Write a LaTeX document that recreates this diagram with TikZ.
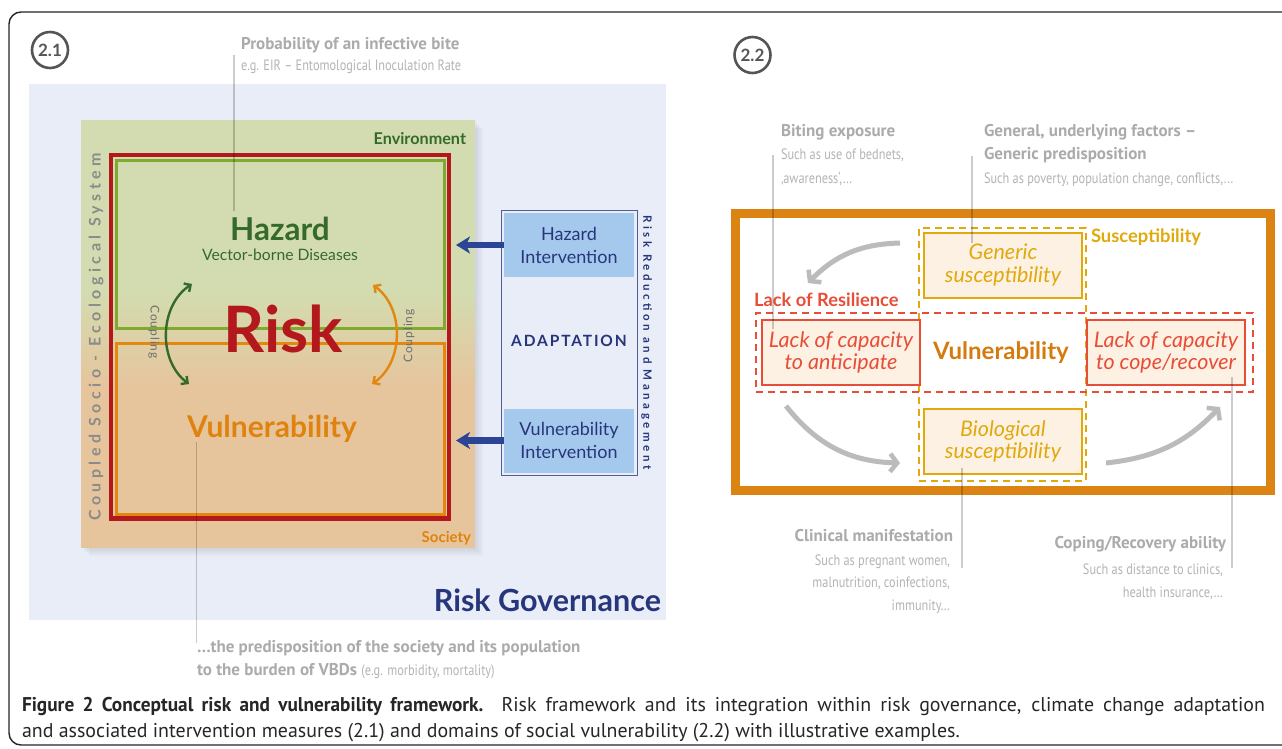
\documentclass[tikz,border=0pt]{standalone}
\usepackage{fontspec}
\setmainfont{Lato}
\newfontfamily\annofont[FakeStretch=0.82]{PT Sans}
\newfontfamily\headfont{PT Sans}
\newfontfamily\capfont{PT Sans}
\newfontfamily\capboldfont[FakeStretch=0.97]{PT Sans Bold}
\newfontfamily\spacedfont[LetterSpace=28]{Lato}
\newfontfamily\rrmfont[LetterSpace=31]{Lato}
\newfontfamily\widefont[LetterSpace=12]{Lato}
\newfontfamily\cplfont[LetterSpace=8]{Lato}
\usetikzlibrary{arrows.meta,positioning}

\newcommand{\setfs}[2][1.2]{\fontsize{#2}{#1\dimexpr #2pt\relax}\selectfont}

\definecolor{govbg}{HTML}{E9EDF8}
\definecolor{envgreen}{HTML}{D3DCB0}
\definecolor{socpeach}{HTML}{E6C59D}
\definecolor{riskred}{HTML}{B3191C}
\definecolor{hazline}{HTML}{7DAA2F}
\definecolor{vulline}{HTML}{E2870F}
\definecolor{hazgreen}{HTML}{356A2A}
\definecolor{vulorange}{HTML}{E0820E}
\definecolor{navy}{HTML}{27367B}
\definecolor{arrowblue}{HTML}{2B4596}
\definecolor{intblue}{HTML}{A4C9EC}
\definecolor{headgray}{HTML}{ABABAB}
\definecolor{bodygray}{HTML}{B4B4B4}
\definecolor{frameorange}{HTML}{DC8413}
\definecolor{susyellow}{HTML}{E1A90B}
\definecolor{boxfill}{HTML}{FDF1E4}
\definecolor{resred}{HTML}{E84D37}
\definecolor{arrowgray}{HTML}{BBBBBB}
\definecolor{circgray}{HTML}{555555}
\definecolor{couplegray}{HTML}{6E6E6E}

\tikzset{
  every node/.style={inner sep=0pt, outer sep=0pt},
  numlabel/.style={circle, draw=circgray, line width=2.6pt, minimum size=36pt,
    text=circgray, font=\bfseries\setfs{17}},
  annohead/.style={font=\headfont\bfseries\setfs{17}, text=headgray},
  annobody/.style={font=\annofont\setfs{15}, text=bodygray},
  guide/.style={draw=black, draw opacity=0.2, line width=1.8pt},
  intbox/.style={fill=intblue, minimum width=130pt, minimum height=64pt, align=center,
    text=navy, font=\setfs[1.28]{18}},
  susbox/.style={draw=susyellow, fill=boxfill, line width=2pt, minimum width=158pt,
    minimum height=65pt, align=center, text=susyellow, font=\itshape\setfs[1.05]{21.5}},
  resbox/.style={susbox, draw=resred, text=resred},
  captionline/.style={font=\capfont\setfs{19.9}, text=black!85, anchor=base west},
  bluearrow/.style={draw=arrowblue, line width=6.5pt, -{Stealth[length=14pt, width=17pt, inset=4pt]}},
  couplearrow/.style={line width=2.4pt, {Straight Barb[length=5pt, width=10pt]}-{Straight Barb[length=5pt, width=10pt]}},
  grayarrow/.style={draw=arrowgray, line width=5pt, -{Straight Barb[length=7pt, width=18pt, line width=4.5pt]}}
}

\begin{document}
\begin{tikzpicture}[x=1pt,y=-1pt]
\useasboundingbox (0,0) rectangle (1282,749);
\clip (0,0) rectangle (1282,749);
\fill[white] (0,0) rectangle (1282,749);
\draw[line width=1.4pt, rounded corners=12pt, black!85] (9,12) rectangle (1310,745);

% 2.1
\node[numlabel] (c21) at (50,50) {2.1};
\fill[govbg] (29,84) rectangle (666,620);
\foreach \d in {2,4,6,8}
  \fill[black, opacity=0.025] (81+\d,120+\d) rectangle (475+\d,548+\d);
\fill[envgreen] (81,120) rectangle (475,290);
\shade[top color=envgreen, bottom color=socpeach] (81,290) rectangle (475,385);
\fill[socpeach] (81,385) rectangle (475,548);

\node[draw=riskred, line width=4.5pt, minimum width=338pt, minimum height=363.5pt] (riskframe) at (280,336.75) {};
\node[draw=hazline, line width=3pt, minimum width=328.5pt, minimum height=168.5pt] (hazframe) at (280.25,244.25) {};
\node[draw=vulline, line width=3pt, minimum width=328.5pt, minimum height=171pt] (vulframe) at (280.25,429) {};

\node[font=\bfseries\setfs{16.2}, text=hazgreen, anchor=base east] (envlabel) at (466,145) {Environment};
\node[font=\bfseries\setfs{15}, text=vulorange, anchor=base east] (soclabel) at (471,542) {Society};
\node[font=\bfseries\setfs{31.5}, text=hazgreen, anchor=base] (hazard) at (280,240) {Hazard};
\node[font=\setfs{15.7}, text=hazgreen, anchor=base] (vbd) at (280,260) {Vector-borne Diseases};
\node[font=\bfseries\setfs{64}, text=riskred, anchor=base] (risk) at (283,352) {Risk};
\node[font=\bfseries\setfs{30}, text=vulorange, anchor=base] (vul) at (272,437) {Vulnerability};

\node[font=\spacedfont\bfseries\setfs{16}, text=couplegray!80, rotate=90] (system) at (96,337) {Coupled Socio - Ecological System};

\coordinate (cg1) at (192,284);
\coordinate (cg2) at (189,384);
\coordinate (co1) at (373,285);
\coordinate (co2) at (372,384);
\draw[couplearrow, draw=hazgreen] (cg1) to[bend right=55] (cg2);
\draw[couplearrow, draw=vulline] (co1) to[bend left=55] (co2);
\node[font=\cplfont\setfs{12}, text=couplegray, rotate=-90] (cplleft) at (154,332) {Coupling};
\node[font=\cplfont\setfs{12}, text=couplegray, rotate=90] (cplright) at (409,336) {Coupling};

\draw[navy!80, line width=0.9pt] (501,210) rectangle (637,475);
\node[intbox] (hazint) at (569,245) {Hazard\\Intervention};
\node[intbox] (vulint) at (569,440.5) {Vulnerability\\Intervention};
\node[font=\widefont\bfseries\setfs{15.5}, text=navy, anchor=base] (adapt) at (569,346) {ADAPTATION};
\node[font=\rrmfont\bfseries\setfs{11.5}, text=navy, rotate=-90] (rrm) at (646.5,342.5) {Risk Reduction and Management};
\draw[bluearrow, shorten >=7pt] (hazint.west) -- (hazint.west -| riskframe.east);
\draw[bluearrow, shorten >=7pt] (vulint.west) -- (vulint.west -| riskframe.east);

\node[font=\bfseries\setfs{30.5}, text=navy, anchor=base east] (gov) at (661,611) {Risk Governance};

\node[annohead, anchor=base west] (probhead) at (241,50) {Probability of an infective bite};
\node[annobody, anchor=base west] (probbody) at (241,71) {e.g. EIR – Entomological Inoculation Rate};
\coordinate (probfoot) at (234,55);
\draw[guide, shorten >=6pt] (probfoot) -- (probfoot |- hazard.north);

\node[annohead, anchor=base west] (predhead) at (197,652) {…the predisposition of the society and its population};
\node[annohead, anchor=base west] (predbody) at (197,675) {to the burden of VBDs {\annofont\mdseries\color{bodygray}\setfs{15}(e.g. morbidity, mortality)}};
\coordinate (predfoot) at (196.5,643);
\draw[guide] (predfoot) -- (predfoot |- vul.south);

% 2.2
\node[numlabel] (c22) at (752.5,55) {2.2};
\node[draw=frameorange, line width=9pt, minimum width=535pt, minimum height=277pt] (frame22) at (1003,352) {};

\node[draw=susyellow, line width=1.3pt, dash pattern=on 7pt off 5pt, minimum width=167pt, minimum height=253pt] (susframe) at (1002.5,354.5) {};
\node[draw=resred, line width=1.3pt, dash pattern=on 7pt off 5pt, minimum width=497pt, minimum height=79pt] (resframe) at (1004.5,352.5) {};

\node[susbox] (generic) at (1003,265) {Generic\\susceptibility};
\node[susbox] (bio) at (1003,441.5) {Biological\\susceptibility};
\node[resbox] (anticipate) at (841,352.5) {Lack of capacity\\to anticipate};
\node[resbox] (cope) at (1166,352.5) {Lack of capacity\\to cope/recover};

\node[font=\bfseries\setfs{18.4}, text=susyellow, anchor=base west] (suslabel) at (1091,242) {Susceptibility};
\node[font=\bfseries\setfs{18.3}, text=resred, anchor=base west] (reslabel) at (754,306) {Lack of Resilience};
\node[font=\bfseries\setfs{24}, text=vulorange!95!black, anchor=base] (vul22) at (1001,359) {Vulnerability};

\coordinate (ga1) at (900,243);
\coordinate (gb1) at (808,283);
\coordinate (ga2) at (786,406);
\coordinate (gb2) at (900,463);
\coordinate (ga3) at (1106,463);
\coordinate (gb3) at (1220,407);
\draw[grayarrow] (ga1) to[bend right=22] (gb1);
\draw[grayarrow] (ga2) to[bend right=25] (gb2);
\draw[grayarrow] (ga3) to[bend right=20] (gb3);

\node[annohead, anchor=base west] (bitehead) at (781,137) {Biting exposure};
\node[annobody, anchor=base west] (bitebody1) at (781,160) {Such as use of bednets,};
\node[annobody, anchor=base west] (bitebody2) at (781,183) {‚awareness‘,…};
\coordinate (bitefoot) at (773,155);
\draw[guide] (bitefoot) -- (bitefoot |- anticipate.north) -- ++(0,9);

\node[annohead, anchor=base west] (genhead1) at (984,137) {General, underlying factors –};
\node[annohead, anchor=base west] (genhead2) at (984,160) {Generic predisposition};
\node[annobody, anchor=base west] (genbody) at (984,183) {Such as poverty, population change, conflicts,...};
\coordinate (genfoot) at (972,156);
\draw[guide] (genfoot) -- (genfoot |- generic.north) -- ++(0,10);

\node[annohead, anchor=base east] (clinhead) at (953,541) {Clinical manifestation};
\node[annobody, anchor=base east] (clinbody1) at (950,565) {Such as pregnant women,};
\node[annobody, anchor=base east] (clinbody2) at (950,587) {malnutrition, coinfections,};
\node[annobody, anchor=base east] (clinbody3) at (950,610) {immunity…};
\coordinate (clinfoot) at (962,568);
\draw[guide] (clinfoot) -- (clinfoot |- bio.south) -- ++(0,-6);

\node[annohead, anchor=base east] (copehead) at (1226,548) {Coping/Recovery ability};
\node[annobody, anchor=base east] (copebody1) at (1223,574) {Such as distance to clinics,};
\node[annobody, anchor=base east] (copebody2) at (1223,597) {health insurance,…};
\coordinate (copefoot) at (1232,568);
\draw[guide] (copefoot) -- (copefoot |- cope.south) -- ++(0,-8);

% caption
\node[captionline] (caption1) at (22,711) {\hbox to 1243pt{{\capboldfont Figure 2 Conceptual risk and vulnerability framework.} Risk framework and its integration within risk governance, climate change adaptation}};
\node[captionline] (caption2) at (22,737) {and associated intervention measures (2.1) and domains of social vulnerability (2.2) with illustrative examples.};

\end{tikzpicture}
\end{document}
